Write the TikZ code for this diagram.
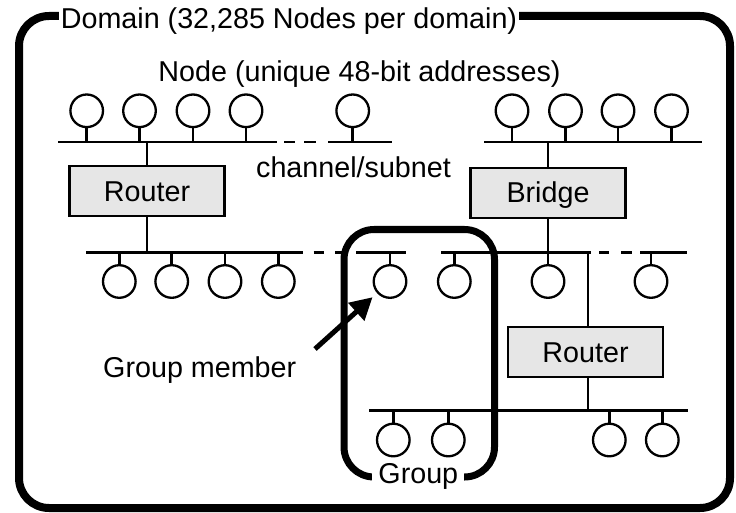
\documentclass[tikz,border=0pt]{standalone}
\usepackage{fontspec}
\setmainfont{Liberation Sans}
\usetikzlibrary{arrows.meta}
\definecolor{boxgray}{RGB}{230,230,230}
\tikzset{
 wire/.style={line width=2.5pt},
 stn/.style={circle, draw, line width=2.3pt, minimum size=32.6pt, inner sep=0pt},
 devbox/.style={draw, line width=2.5pt, fill=boxgray, minimum width=155pt, minimum height=50pt, inner sep=0pt, text height=20pt, text depth=0pt, font=\fontsize{28.7}{34}\selectfont},
 lbl/.style={font=\fontsize{28.7}{34}\selectfont, inner sep=0pt},
 outerframe/.style={line width=8pt, rounded corners=30pt},
 grpframe/.style={line width=7pt, rounded corners=30pt},
 pointer/.style={line width=5pt, -{Triangle[length=22pt,width=23pt]}, shorten >=6pt},
}
\begin{document}
\begin{tikzpicture}[x=1pt,y=-1pt]
\useasboundingbox (0,0) rectangle (736,513);
% frames
\draw[outerframe] (19,16) rectangle (730,508);
\draw[grpframe] (344,229.5) rectangle (494.5,477);
% bus reference coordinates
\coordinate (tb) at (0,142);
\coordinate (mb) at (0,252.5);
\coordinate (bb) at (0,410.5);
% buses
\draw[wire] (58,142) -- (277,142);
\draw[wire] (284,142) -- (295,142);
\draw[wire] (304,142) -- (316,142);
\draw[wire] (328,142) -- (392,142);
\draw[wire] (484,142) -- (702,142);
\draw[wire] (86,252.5) -- (303,252.5);
\draw[wire] (313.5,252.5) -- (324,252.5);
\draw[wire] (335,252.5) -- (345,252.5);
\draw[wire] (356,252.5) -- (406,252.5);
\draw[wire] (441,252.5) -- (591,252.5);
\draw[wire] (599,252.5) -- (609,252.5);
\draw[wire] (621,252.5) -- (632,252.5);
\draw[wire] (640,252.5) -- (687,252.5);
\draw[wire] (369,410.5) -- (688,410.5);
% stations
\foreach \i/\x in {1/86.7,2/139.5,3/193,4/246,5/352.7}
  \node[stn] (t\i) at (\x,110.8) {};
\foreach \i/\x in {1/512,2/565.5,3/618,4/671.5}
  \node[stn] (u\i) at (\x,110.8) {};
\foreach \i/\x in {1/119.3,2/171.7,3/225,4/278.3,5/390,6/454.3,7/548,8/651}
  \node[stn] (m\i) at (\x,281.5) {};
\foreach \i/\x in {1/393.3,2/448.3,3/609.3,4/662.3}
  \node[stn] (b\i) at (\x,440) {};
\foreach \n in {t1,t2,t3,t4,t5,u1,u2,u3,u4}
  \draw[wire] (\n.south) -- (\n.south |- tb);
\foreach \n in {m1,m2,m3,m4,m5,m6,m7,m8}
  \draw[wire] (\n.north) -- (\n.north |- mb);
\foreach \n in {b1,b2,b3,b4}
  \draw[wire] (\n.north) -- (\n.north |- bb);
% devices
\node[devbox] (rA) at (147,191) {Router};
\node[devbox] (br) at (548,193) {Bridge};
\node[devbox] (rB) at (585.5,352) {Router};
\draw[wire] (rA.north) -- (rA.north |- tb);
\draw[wire] (rA.south) -- (rA.south |- mb);
\draw[wire] (br.north) -- (br.north |- tb);
\draw[wire] (br.south) -- (br.south |- mb);
\coordinate (jn) at (588,252.5);
\draw[wire] (jn) -- (jn |- rB.north);
\draw[wire] (jn |- rB.south) -- (jn |- bb);
% labels
\node[lbl, fill=white, inner xsep=2pt, inner ysep=1pt, anchor=base] (title) at (289,28.5) {Domain (32,285 Nodes per domain)};
\node[lbl, anchor=base] (nodelbl) at (359.5,82) {Node (unique 48-bit addresses)};
\node[lbl, anchor=base] (chan) at (353.5,177.5) {channel/subnet};
\node[lbl, anchor=base] (gm) at (199.7,377.3) {Group member};
\node[lbl, anchor=base, fill=white, inner xsep=6pt, inner ysep=2pt] (grplbl) at (418.3,483.3) {Group};
% pointer
\coordinate (gmtail) at (315,349);
\draw[pointer] (gmtail) -- (m5);
\end{tikzpicture}
\end{document}
